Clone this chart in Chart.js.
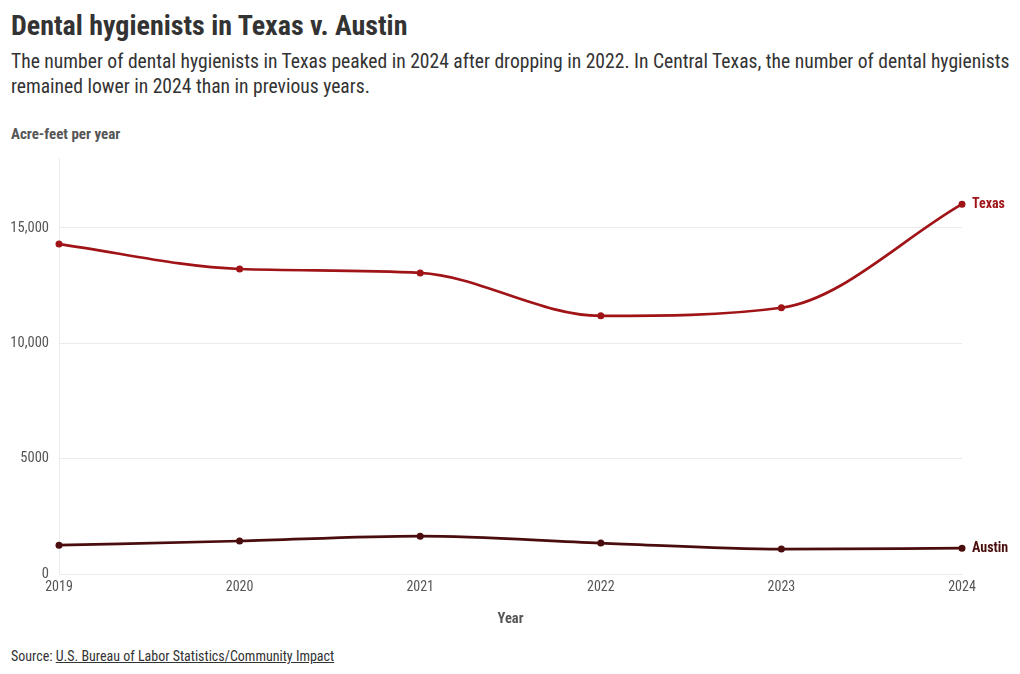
<!DOCTYPE html>
<html>
<head>
<meta charset="utf-8">
<script src="https://cdn.jsdelivr.net/npm/chart.js@4"></script>
<style>
  html, body { margin: 0; padding: 0; background: #fff; }
  body { width: 1020px; height: 674px; position: relative; overflow: hidden;
    font-family: 'Roboto Condensed', 'Liberation Sans Narrow', 'Roboto', sans-serif; color: #333; }
  .title { position: absolute; left: 11px; top: 9px; font-size: 28px; font-weight: 700; color: #333; }
  .sub { position: absolute; left: 11px; top: 49px; width: 1009px; font-size: 19.6px; line-height: 25px; color: #333; }
  .ylab { position: absolute; left: 11px; top: 125px; font-size: 15px; font-weight: 700; color: #555; }
  .src { position: absolute; left: 11px; top: 648px; font-size: 14px; color: #333; }
  .src u { text-decoration: underline; }
  .wrap { position: absolute; left: 0; top: 140px; width: 1020px; height: 500px; }
</style>
</head>
<body>
<div class="title">Dental hygienists in Texas v. Austin</div>
<div class="sub">The number of dental hygienists in Texas peaked in 2024 after dropping in 2022. In Central Texas, the number of dental hygienists remained lower in 2024 than in previous years.</div>
<div class="ylab">Acre-feet per year</div>
<div class="wrap"><canvas id="c"></canvas></div>
<div class="src">Source: <u>U.S. Bureau of Labor Statistics/Community Impact</u></div>
<script>
const years = ['2019', '2020', '2021', '2022', '2023', '2024'];
const texas = [14300, 13220, 13050, 11190, 11540, 16030];
const austin = [1250, 1430, 1640, 1340, 1080, 1120];
const yTicks = [0, 5000, 10000, 15000];

const FONT = "'Roboto Condensed', 'Liberation Sans Narrow', 'Roboto', sans-serif";

// series name drawn right of the last point
const endLabels = {
  id: 'endLabels',
  afterDatasetsDraw(chart) {
    const ctx = chart.ctx;
    chart.data.datasets.forEach((ds, i) => {
      const pts = chart.getDatasetMeta(i).data;
      const p = pts[pts.length - 1];
      ctx.save();
      ctx.font = 'bold 14px ' + FONT;
      ctx.fillStyle = ds.borderColor;
      ctx.textBaseline = 'middle';
      ctx.fillText(ds.label, p.x + 10, p.y);
      ctx.restore();
    });
  },
};

const fmt = v => v >= 10000 ? v.toLocaleString('en-US') : String(v);

new Chart(document.getElementById('c'), {
  type: 'line',
  data: {
    labels: years,
    datasets: [
      { label: 'Texas', data: texas, borderColor: '#a01418', backgroundColor: '#a01418' },
      { label: 'Austin', data: austin, borderColor: '#4a0c0c', backgroundColor: '#4a0c0c' },
    ],
  },
  options: {
    responsive: true,
    maintainAspectRatio: false,
    animation: false,
    layout: { padding: { left: 0, right: 58, top: 18, bottom: 0 } },
    elements: {
      line: { borderWidth: 2.7, cubicInterpolationMode: 'monotone' },
      point: { radius: 3.5, borderWidth: 0 },
    },
    plugins: { legend: { display: false }, tooltip: { enabled: false } },
    scales: {
      x: {
        grid: { display: false, drawTicks: false },
        border: { color: '#ebebeb' },
        ticks: { color: '#555', font: { size: 14, family: FONT }, padding: 5, maxRotation: 0 },
        title: { display: true, text: 'Year', color: '#555', font: { size: 14.5, weight: 'bold', family: FONT }, padding: { top: 4, bottom: 12 } },
        afterFit(s) { s.height = 66; },
      },
      y: {
        min: 0, max: 18000,
        afterBuildTicks(s) { s.ticks = yTicks.map(v => ({ value: v })); },
        grid: { color: '#ebebeb', drawTicks: false },
        border: { color: '#ebebeb' },
        ticks: { color: '#555', font: { size: 14.5, family: FONT }, padding: 10, callback: v => fmt(v) },
        afterFit(s) { s.width = 59; },
      },
    },
  },
  plugins: [endLabels],
});
</script>
</body>
</html>
